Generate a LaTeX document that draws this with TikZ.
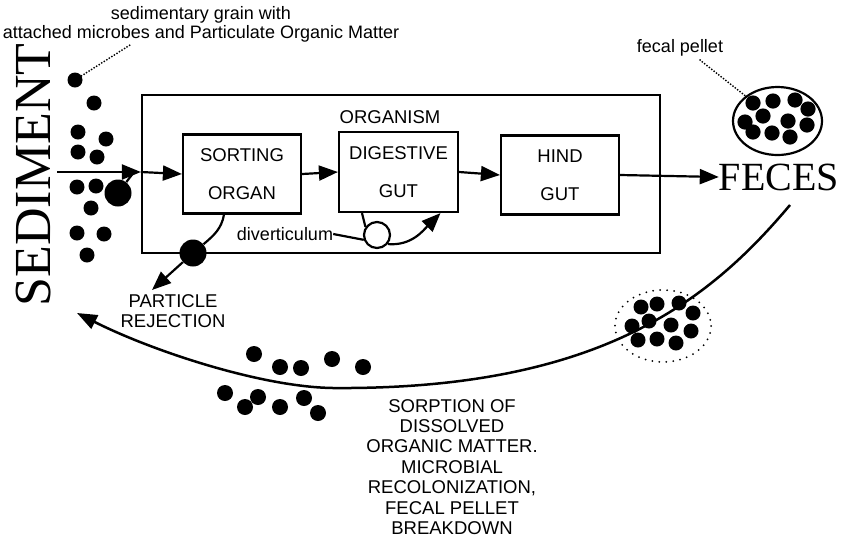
\documentclass[tikz,border=0pt]{standalone}
\usepackage{fontspec}
\setmainfont{Liberation Serif}
\newfontfamily\lsans{Liberation Sans}
\usetikzlibrary{arrows.meta,shapes.geometric}
\begin{document}
\begin{tikzpicture}[x=1pt,y=-1pt,
 box/.style={draw,line width=2.2pt,minimum width=118pt,minimum height=79pt,inner sep=0pt,align=center,font=\lsans\fontsize{18.5}{38}\selectfont},
 arr/.style={line width=2.2pt,-{Triangle[length=19pt,width=15pt]}},
 lab/.style={font=\lsans\fontsize{18.5}{20.5}\selectfont,align=center,inner sep=0pt},
 small/.style={font=\lsans\fontsize{18}{19.5}\selectfont,inner sep=0pt,align=center},
 blackdot/.style={circle,fill,inner sep=0pt,minimum size=#1},
 blackdot/.default=15pt,
 dotline/.style={line width=2pt,dash pattern=on 0pt off 3pt,line cap=round},
]
\fill[white] (0,0) rectangle (851,539);
\useasboundingbox (0,0) rectangle (851,539);

% top labels
\node[small] (grainlab1) at (201,15) {sedimentary grain with};
\node[small] (grainlab2) at (201,34) {attached microbes and Particulate Organic Matter};
\node[blackdot] (grain) at (75,80) {};
\coordinate (grainend) at (130,45);
\draw[dotline] (grain) -- (grainend);

% SEDIMENT
\node[rotate=90,font=\fontsize{52}{52}\selectfont,inner sep=0pt] (sed) at (34,175) {SEDIMENT};

% sediment dots
\foreach \p in {(94,103),(78,132),(106,139),(78,152),(97,157),(77,187),(96,186),(91,208),(77,233),(104,234),(87,255)}
  \fill \p circle (7.5);
\node[blackdot=27pt] (bigdot) at (118,193) {};

% organism box
\node[draw,line width=2.2pt,minimum width=518pt,minimum height=158pt,inner sep=0pt] (org) at (401,174) {};
\node[lab] (orglab) at (390,117) {ORGANISM};

\node[box] (sort) at (242,174) {SORTING\\ORGAN};
\node[box,minimum width=119pt,minimum height=80pt] (dig) at (398.5,172) {DIGESTIVE\\GUT};
\node[box] (hind) at (560,175) {HIND\\GUT};

% input arrows
\coordinate (sedin) at (57,172);
\coordinate (join) at (134,172);
\draw[arr] (sedin) -- (sedin -| org.west);
\draw[line width=2.2pt] (bigdot) -- (join);
\draw[arr] (sedin -| org.west) -- (sort.west);
\draw[arr] (sort.east) -- (dig.west);
\draw[arr] (dig.east) -- (hind.west);

% FECES
\node[font=\fontsize{40}{40}\selectfont,inner sep=0pt] (feces) at (779,177) {FECES};
\draw[arr] (hind.east) -- (feces.west);

% fecal pellet
\node[small] (fplab) at (680,48) {fecal pellet};
\node[draw,ellipse,line width=2.2pt,minimum width=89pt,minimum height=68pt,inner sep=0pt] (pellet) at (777.5,121) {};
\foreach \p in {(753,103),(773,101),(795,100),(808,109),(763,116),(788,121),(807,125),(745,122),(753,132),(772,133),(790,137)}
  \fill \p circle (7.6);
\coordinate (fpstart) at (700,60);
\draw[dotline] (fpstart) -- (pellet.142);

% particle rejection
\node[blackdot=27pt] (rejdot) at (193,253) {};
\draw[line width=2.2pt] ([xshift=-18pt]sort.south) to[out=-100,in=40] (rejdot);
\node[lab] (rejlab) at (173,311) {PARTICLE\\REJECTION};
\coordinate (rejtip) at (152,290);
\draw[arr] (rejdot) -- (rejtip);

% diverticulum
\node[small] (divlab) at (285,234) {diverticulum};
\node[draw,circle,line width=2.2pt,fill=white,minimum size=26pt,inner sep=0pt] (divc) at (377,235) {};
\draw[line width=2.2pt] (divlab.east) -- (divc.200);
\draw[line width=2.2pt] ([xshift=-36.5pt]dig.south) -- (divc.145);
\draw[arr] (divc.-40) to[out=-5,in=-135] ([xshift=42pt]dig.south);

% return path
\coordinate (retS) at (790,205);
\coordinate (retE) at (77,313);
\coordinate (retM) at (333,388);
\draw[line width=2.5pt,-{Triangle[length=20pt,width=15pt]}] (retS) .. controls (710,300) and (600,390) .. (retM) .. controls (260,387) and (150,350) .. (retE);

% dispersing pellet
\draw[line width=2pt,dash pattern=on 0pt off 7pt,line cap=round] (663,326) ellipse [x radius=48, y radius=36];
\foreach \p in {(641,307),(657,304),(679,303),(693,313),(632,326),(649,321),(671,325),(691,331),(638,340),(657,339),(676,343)}
  \fill \p circle (7.5);

% loose particles
\foreach \p in {(254,354),(280,367),(301,368),(332,359),(363,367),(225,393),(258,397),(245,407),(280,407),(304,398),(318,413)}
  \fill \p circle (8);

% sorption text
\node[lab,font=\lsans\fontsize{18.5}{20.4}\selectfont] (sorp) at (452,467) {SORPTION OF\\DISSOLVED\\ORGANIC MATTER.\\MICROBIAL\\RECOLONIZATION,\\FECAL PELLET\\BREAKDOWN};
\end{tikzpicture}
\end{document}
